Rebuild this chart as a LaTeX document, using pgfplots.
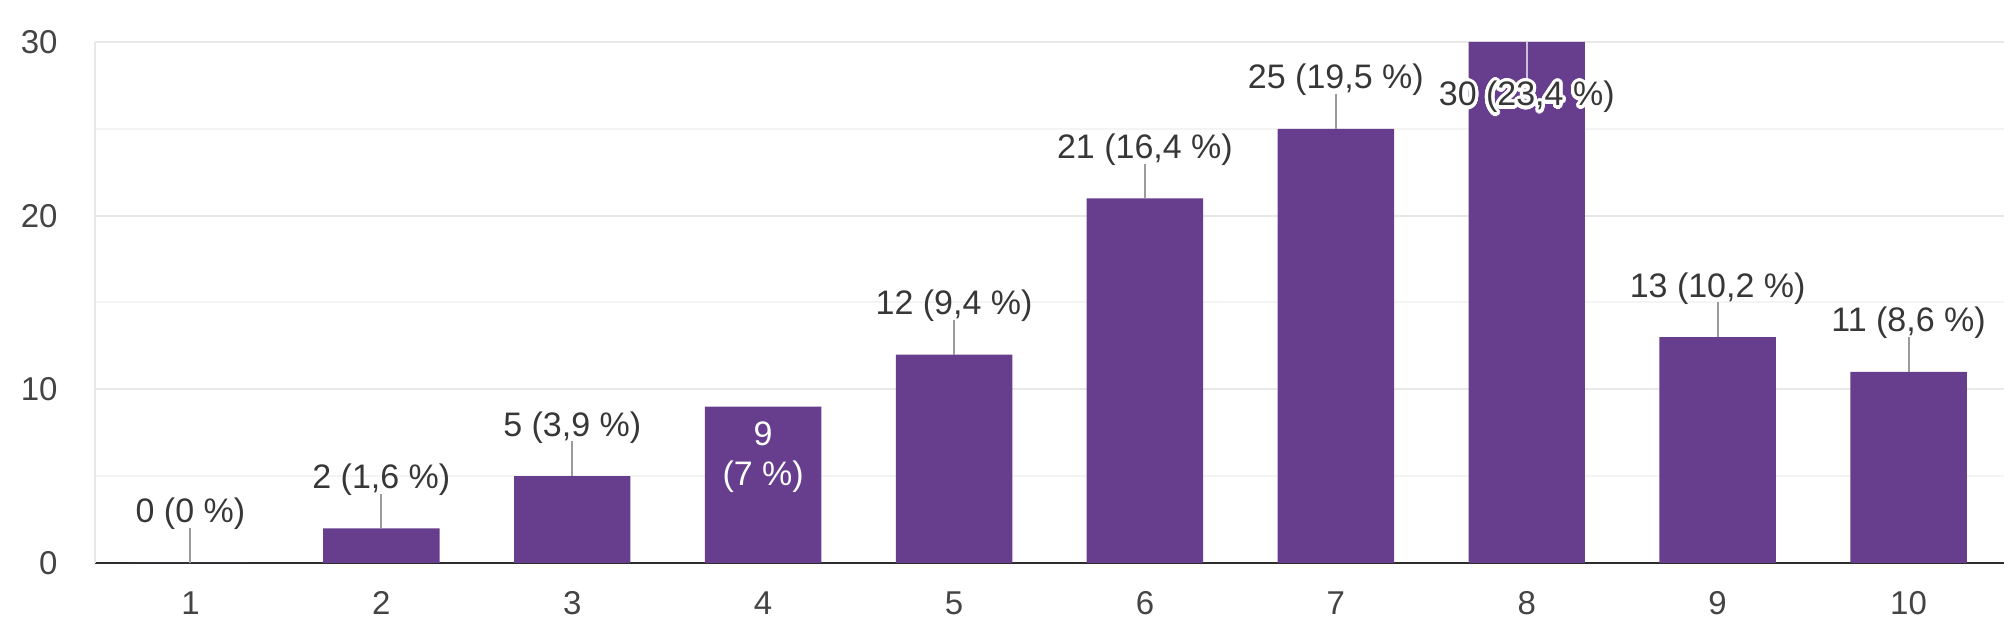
\documentclass[border=0pt]{standalone}
\usepackage{pgfplots}
\pgfplotsset{compat=1.18}
\usepackage{fontspec}
\setmainfont{Liberation Sans}
\usepackage[copies]{contour}
\contourlength{1.6pt}
\contournumber{32}
\definecolor{barpurple}{RGB}{103,62,142}
\definecolor{txt}{RGB}{55,55,55}
\definecolor{ticktxt}{RGB}{68,68,68}
\definecolor{gridA}{RGB}{232,232,232}
\definecolor{gridB}{RGB}{244,244,244}
\definecolor{basel}{RGB}{45,45,45}
\definecolor{stick}{RGB}{155,155,155}
\definecolor{stickin}{RGB}{205,190,222}
\begin{document}
\begin{tikzpicture}
\useasboundingbox (-47.5pt,-39pt) rectangle (956.5pt,281.5pt);
\begin{axis}[
  scale only axis, width=954.5pt, height=260.5pt,
  xmin=0.5, xmax=10.5, ymin=0, ymax=30,
  xtick={1,...,10}, ytick={0,10,20,30}, minor ytick={5,15,25},
  ymajorgrids, yminorgrids,
  major grid style={draw=gridA, line width=1pt},
  minor grid style={draw=gridB, line width=1pt},
  axis x line*=bottom, axis y line*=left,
  x axis line style={draw=basel, line width=1.3pt, -},
  y axis line style={draw=gridA, line width=1pt, -},
  major tick length=0pt, minor tick length=0pt,
  tick style={draw=none},
  /pgf/number format/assume math mode=true,
  xticklabel style={anchor=base, inner sep=0pt, yshift=-26pt, font=\fontsize{16.5pt}{20pt}\selectfont, text=ticktxt},
  yticklabel style={anchor=east, inner sep=0pt, xshift=-18.5pt, font=\fontsize{16.5pt}{20pt}\selectfont, text=ticktxt},
  clip=false,
]
% bars
\addplot[ybar, bar width=0.61, fill=barpurple, draw=none] coordinates {
  (1,0) (2,2) (3,5) (4,9) (5,12) (6,21) (7,25) (8,30) (9,13) (10,11)};
% sticks above bars
\addplot[draw=none, mark=none, forget plot,
  error bars/.cd, y dir=plus, y fixed=2, error mark=none,
  error bar style={draw=stick, line width=1pt}] coordinates {
  (1,0) (2,2) (3,5) (5,12) (6,21) (7,25) (9,13) (10,11)};
% stick inside bar 8
\addplot[draw=none, mark=none, forget plot,
  error bars/.cd, y dir=minus, y fixed=2.25, error mark=none,
  error bar style={draw=stickin, line width=1pt}] coordinates {(8,30)};
% labels above bars
\addplot[draw=none, mark=none, nodes near coords, point meta=explicit symbolic,
  every node near coord/.style={anchor=base, inner sep=0pt, yshift=20pt,
    font=\fontsize{17pt}{20pt}\selectfont, text=txt}]
  table[col sep=semicolon, meta=label] {
x;y;label
1;0;0 (0 \%)
2;2;2 (1,6 \%)
3;5;5 (3,9 \%)
5;12;12 (9,4 \%)
6;21;21 (16,4 \%)
7;25;25 (19,5 \%)
9;13;13 (10,2 \%)
10;11;11 (8,6 \%)
};
% label inside bar 4
\addplot[draw=none, mark=none,
  nodes near coords={\begin{tabular}{@{}c@{}}9\\(7 \%)\end{tabular}},
  every node near coord/.style={anchor=north, inner sep=0pt, yshift=-5pt,
    font=\fontsize{17pt}{20pt}\selectfont, text=white}]
  coordinates {(4,9)};
% label over bar 8
\addplot[draw=none, mark=none,
  nodes near coords={\contour{white}{30 (23,4 \%)}},
  every node near coord/.style={anchor=base, inner sep=0pt, yshift=-32pt,
    font=\fontsize{17pt}{20pt}\selectfont, text=txt}]
  coordinates {(8,30)};
\end{axis}
\end{tikzpicture}
\end{document}
